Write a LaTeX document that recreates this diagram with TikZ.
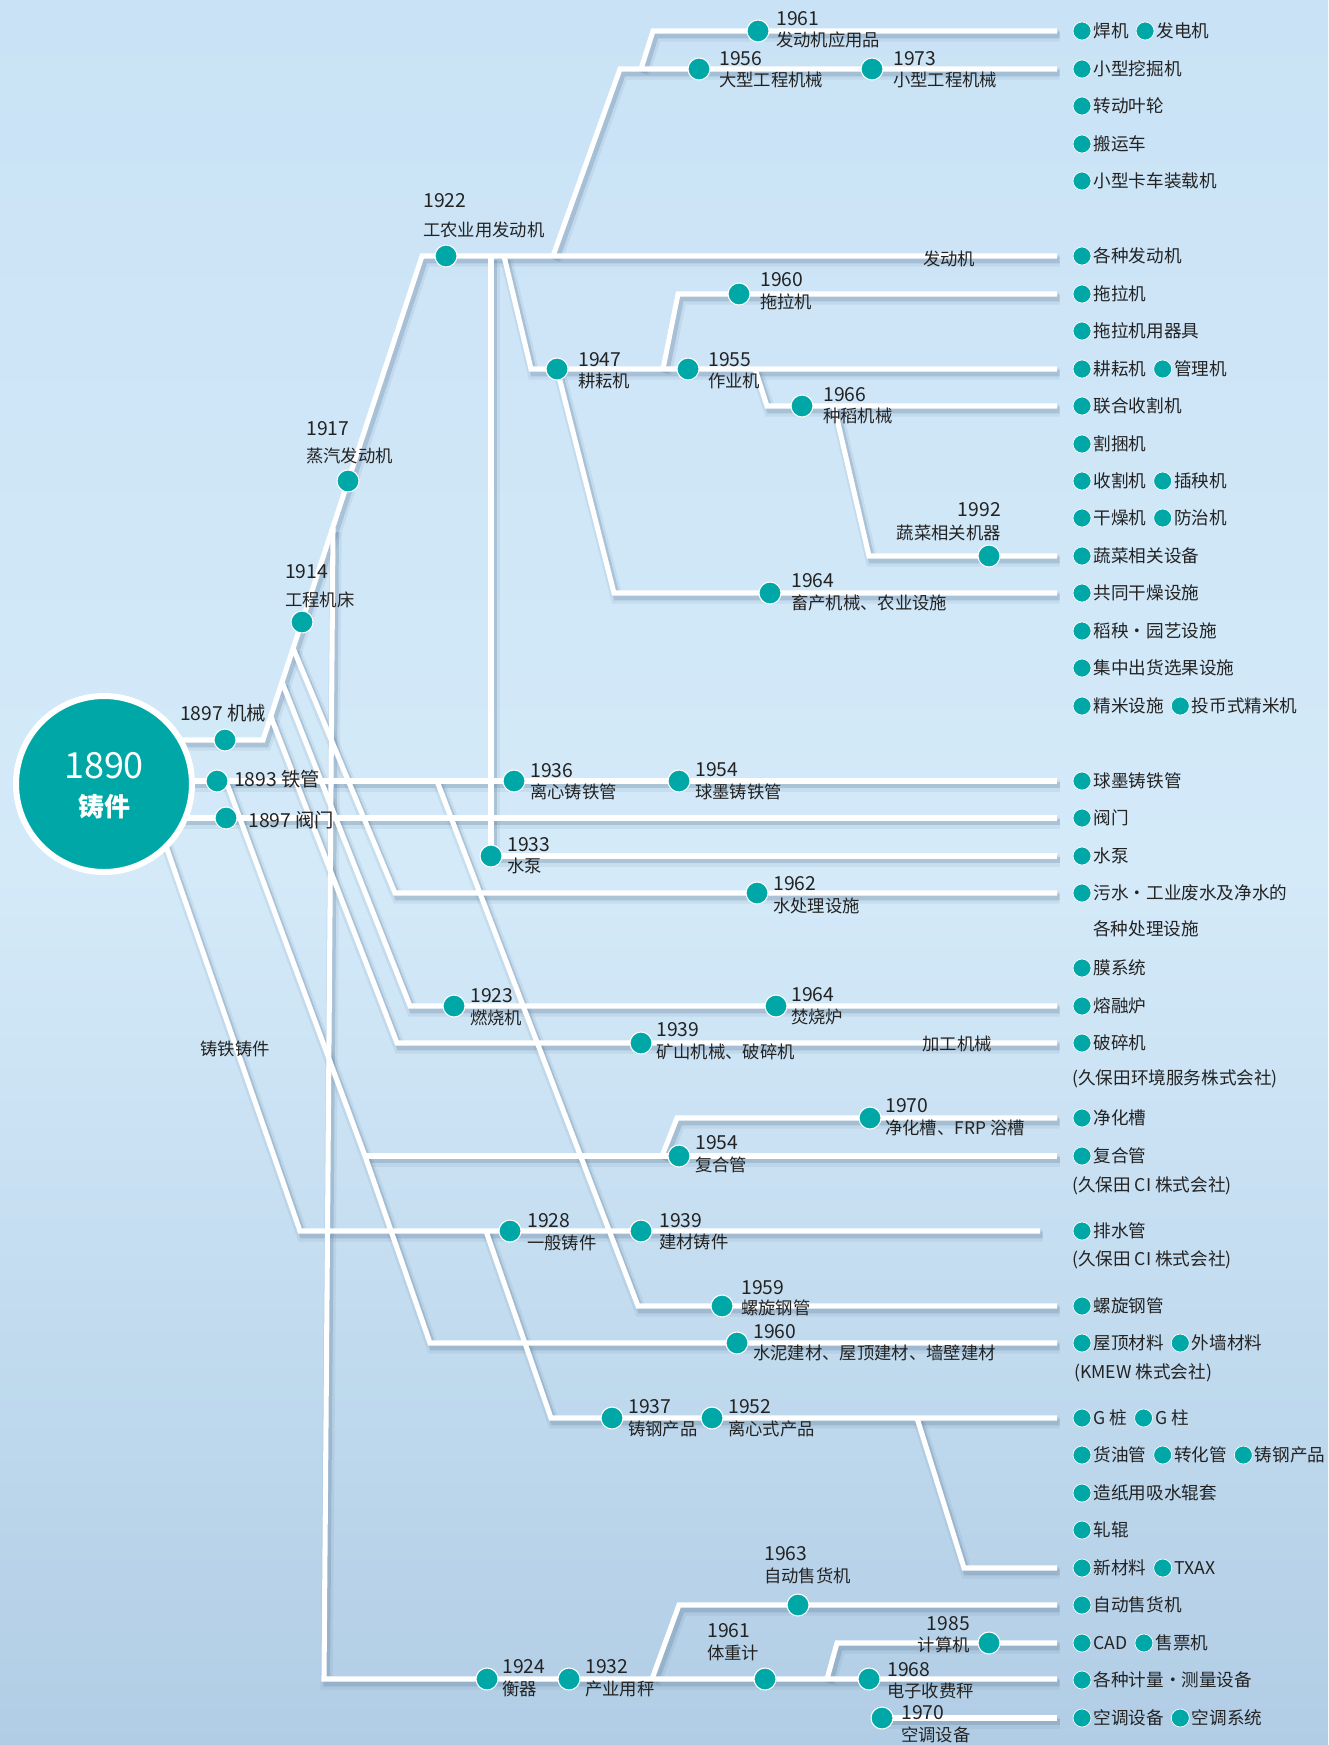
\documentclass[tikz,border=0pt]{standalone}
\usepackage{fontspec}
\setmainfont{Noto Sans CJK SC}
\usetikzlibrary{calc}
\definecolor{tealc}{RGB}{0,167,167}
\definecolor{txt}{RGB}{35,35,35}
\definecolor{shc}{RGB}{90,120,150}
\definecolor{bgt}{RGB}{201,226,245}
\definecolor{bgm}{RGB}{212,234,249}
\definecolor{bgb}{RGB}{177,205,229}
\pgfdeclarelayer{bglayer}
\pgfdeclarelayer{shlayer}
\pgfdeclarelayer{lnlayer}
\pgfsetlayers{bglayer,shlayer,lnlayer,main}
\tikzset{
 tdot/.style={circle,fill=tealc,draw=white,line width=0.8pt,minimum size=16.5pt,inner sep=0pt},
 rdot/.style={circle,fill=tealc,draw=white,line width=0.5pt,minimum size=13.5pt,inner sep=0pt},
 yr/.style={anchor=west,inner sep=0pt,text=txt,font=\fontsize{14.5}{16}\selectfont},
 ds/.style={anchor=west,inner sep=0pt,text=txt,font=\fontsize{13}{15}\selectfont},
 yre/.style={yr,anchor=east},
 dse/.style={ds,anchor=east},
 rl/.style={anchor=west,inner sep=0pt,text=txt,font=\fontsize{13.2}{16}\selectfont},
 wl/.style={draw=white,line width=3.8pt},
 shA/.style={draw=shc,line width=9pt,opacity=0.10,transform canvas={shift={(2pt,-3.5pt)}}},
 shB/.style={draw=shc,line width=5pt,opacity=0.25,transform canvas={shift={(2pt,-3pt)}}},
 dsh/.style={circle,fill=shc,opacity=0.25,minimum size=16.5pt,inner sep=0pt},
}
\newcommand\evlab[6]{\node[yr] (#1y) at (#2,#3) {#5};\node[ds] (#1t) at (#2,#4) {#6};}
\newcommand\rrow[3]{\node[rdot] (#1d) at (1082,#2) {};\node[rl] (#1) at ([xshift=1.5pt]#1d.east) {#3};}
\newcommand\rnext[3]{\node[rdot,anchor=west] (#1d) at ([xshift=5pt]#2.east) {};\node[rl] (#1) at ([xshift=1.5pt]#1d.east) {#3};}
\newcommand\allpaths[1]{%
\draw[#1] (s1) -- (c1) -- (c1922) -- (e6);
\draw[#1] (j1) -- (j2) -- (e1);
\draw[#1] (j3) -- (j4) -- (e0);
\draw[#1] (v2) -- (d1933.center) -- (e22);
\draw[#1] (j5) -- (j6) -- (e9);
\draw[#1] (d1947.center) -- (j7) -- (e15);
\draw[#1] (j8) -- (j9) -- (e7);
\draw[#1] (j10) -- (j11) -- (e10);
\draw[#1] (j12) -- (j13) -- (e14);
\draw[#1] (f1) -- (c1962) -- (e23);
\draw[#1] (f2) -- (c1923) -- (e26);
\draw[#1] (f3) -- (c1939) -- (e27);
\draw[#1] (fv) -- (vb) -- (e44);
\draw[#1] (b1) -- (b1t) -- (e42);
\draw[#1] (b2) -- (b2t) -- (e43);
\draw[#1] (d1970b.center) -- (e45);
\draw[#1] (s2) -- (e20);
\draw[#1] (g0) -- (g1) -- (g2) -- (e35);
\draw[#1] (g1) -- (e30);
\draw[#1] (g3) -- (g4) -- (e29);
\draw[#1] (h0) -- (h1) -- (e34);
\draw[#1] (s3) -- (e21);
\draw[#1] (s4) -- (i1) -- (e32);
\draw[#1] (i2) -- (i3) -- (e37);
\draw[#1] (i4) -- (i5) -- (e41);
}
\begin{document}
\begin{tikzpicture}[x=0.75pt,y=-0.75pt]
\begin{pgfonlayer}{bglayer}
\shade[top color=bgt,bottom color=bgb,middle color=bgm] (0,0) rectangle (1328,1745);
\end{pgfonlayer}
\useasboundingbox (0,0) rectangle (1328,1745);

% ---- coordinates
\coordinate (s1) at (150,740);
\coordinate (s2) at (150,781);
\coordinate (s3) at (150,818);
\coordinate (s4) at (150,800);
\coordinate (c1) at (263,740);
\coordinate (c1922) at (422,256);
\coordinate (f1) at (293,648);
\coordinate (f2) at (282,682);
\coordinate (f3) at (271,717);
\coordinate (fv) at (333,528);
\coordinate (vb) at (324,1679);
\coordinate (c1962) at (395,893);
\coordinate (c1923) at (410,1006);
\coordinate (c1939) at (397,1043);
\coordinate (b1) at (652,1679);
\coordinate (b1t) at (679,1605);
\coordinate (b2) at (827,1679);
\coordinate (b2t) at (837,1643);
\coordinate (g0) at (226,781);
\coordinate (g1) at (365,1156);
\coordinate (g2) at (430,1343);
\coordinate (g3) at (662,1156);
\coordinate (g4) at (677,1118);
\coordinate (h0) at (437,781);
\coordinate (h1) at (638,1306);
\coordinate (i1) at (300,1231);
\coordinate (i2) at (486,1231);
\coordinate (i3) at (551,1418);
\coordinate (i4) at (917,1418);
\coordinate (i5) at (964,1568);
\coordinate (j1) at (553,256);
\coordinate (j2) at (620,69);
\coordinate (j3) at (641,69);
\coordinate (j4) at (653,31);
\coordinate (v2) at (491,256);
\coordinate (j5) at (504,256);
\coordinate (j6) at (531,369);
\coordinate (j7) at (614,593);
\coordinate (j8) at (663,369);
\coordinate (j9) at (678,294);
\coordinate (j10) at (755,369);
\coordinate (j11) at (767,406);
\coordinate (j12) at (834,406);
\coordinate (j13) at (869,556);
\coordinate (e0) at (1057,31);
\coordinate (e1) at (1057,69);
\coordinate (e6) at (1057,256);
\coordinate (e7) at (1057,294);
\coordinate (e9) at (1057,369);
\coordinate (e10) at (1057,406);
\coordinate (e14) at (1057,556);
\coordinate (e15) at (1057,593);
\coordinate (e20) at (1057,781);
\coordinate (e21) at (1057,818);
\coordinate (e22) at (1057,856);
\coordinate (e23) at (1057,893);
\coordinate (e26) at (1057,1006);
\coordinate (e27) at (1057,1043);
\coordinate (e29) at (1057,1118);
\coordinate (e30) at (1057,1156);
\coordinate (e32) at (1040,1231);
\coordinate (e34) at (1057,1306);
\coordinate (e35) at (1057,1343);
\coordinate (e37) at (1057,1418);
\coordinate (e41) at (1057,1568);
\coordinate (e42) at (1057,1605);
\coordinate (e43) at (1057,1643);
\coordinate (e44) at (1057,1679);
\coordinate (e45) at (1057,1718);

% ---- main circle
\node[circle,fill=tealc,draw=white,line width=4.5pt,minimum size=132pt,inner sep=0pt] (main) at (104,784) {};
\node[text=white,font=\fontsize{27}{30}\selectfont] (t1890) at (104,766) {1890};
\node[text=white,font=\bfseries\fontsize{19.5}{22}\selectfont] (tzj) at (104,807) {铸件};

% ---- timeline dots
\node[tdot] (d1897a) at (225,740) {};
\node[tdot] (d1893) at (217,781) {};
\node[tdot] (d1897b) at (226,818) {};
\node[tdot] (d1914) at (302,622) {};
\node[tdot] (d1917) at (348,481) {};
\node[tdot] (d1922) at (446,256) {};
\node[tdot] (d1961a) at (758,31) {};
\node[tdot] (d1956) at (699,69) {};
\node[tdot] (d1973) at (872,69) {};
\node[tdot] (d1960a) at (739,294) {};
\node[tdot] (d1947) at (557,369) {};
\node[tdot] (d1955) at (688,369) {};
\node[tdot] (d1966) at (802,406) {};
\node[tdot] (d1992) at (989,556) {};
\node[tdot] (d1964a) at (770,593) {};
\node[tdot] (d1936) at (514,781) {};
\node[tdot] (d1954a) at (679,781) {};
\node[tdot] (d1933) at (491,856) {};
\node[tdot] (d1962) at (757,893) {};
\node[tdot] (d1923) at (454,1006) {};
\node[tdot] (d1964b) at (776,1006) {};
\node[tdot] (d1939a) at (641,1043) {};
\node[tdot] (d1970a) at (870,1118) {};
\node[tdot] (d1954b) at (679,1156) {};
\node[tdot] (d1928) at (510,1231) {};
\node[tdot] (d1939b) at (641,1231) {};
\node[tdot] (d1959) at (722,1306) {};
\node[tdot] (d1960b) at (737,1343) {};
\node[tdot] (d1937) at (612,1418) {};
\node[tdot] (d1952) at (712,1418) {};
\node[tdot] (d1963) at (798,1605) {};
\node[tdot] (d1985) at (989,1643) {};
\node[tdot] (d1924) at (487,1679) {};
\node[tdot] (d1932) at (569,1679) {};
\node[tdot] (d1961b) at (765,1679) {};
\node[tdot] (d1968) at (869,1679) {};
\node[tdot] (d1970b) at (882,1718) {};

% ---- lines
\begin{pgfonlayer}{shlayer}
\allpaths{shA}
\allpaths{shB}
\end{pgfonlayer}
\begin{pgfonlayer}{lnlayer}
\allpaths{wl}
\end{pgfonlayer}

% ---- timeline labels
\node[yr] (l1897a) at (180,713) {1897 机械};
\node[yr] (l1893) at (234,779) {1893 铁管};
\node[yr] (l1897b) at (248,820) {1897 阀门};
\evlab{l1914}{285}{572}{600}{1914}{工程机床}
\evlab{l1917}{306}{429}{456}{1917}{蒸汽发动机}
\evlab{l1922}{423}{201}{230}{1922}{工农业用发动机}
\evlab{l1961a}{776}{19}{40}{1961}{发动机应用品}
\evlab{l1956}{719}{59}{80}{1956}{大型工程机械}
\evlab{l1973}{893}{59}{80}{1973}{小型工程机械}
\evlab{l1960a}{760}{280}{302}{1960}{拖拉机}
\evlab{l1947}{578}{360}{381}{1947}{耕耘机}
\evlab{l1955}{708}{360}{381}{1955}{作业机}
\evlab{l1966}{823}{395}{416}{1966}{种稻机械}
\evlab{l1964a}{791}{581}{603}{1964}{畜产机械、农业设施}
\evlab{l1936}{530}{771}{792}{1936}{离心铸铁管}
\evlab{l1954a}{695}{770}{792}{1954}{球墨铸铁管}
\evlab{l1933}{507}{845}{866}{1933}{水泵}
\evlab{l1962}{773}{884}{906}{1962}{水处理设施}
\evlab{l1923}{470}{996}{1018}{1923}{燃烧机}
\evlab{l1964b}{791}{995}{1017}{1964}{焚烧炉}
\evlab{l1939a}{656}{1030}{1052}{1939}{矿山机械、破碎机}
\evlab{l1970a}{885}{1106}{1128}{1970}{净化槽、FRP 浴槽}
\evlab{l1954b}{695}{1143}{1165}{1954}{复合管}
\evlab{l1928}{527}{1221}{1243}{1928}{一般铸件}
\evlab{l1939b}{659}{1221}{1242}{1939}{建材铸件}
\evlab{l1959}{741}{1288}{1308}{1959}{螺旋钢管}
\evlab{l1960b}{753}{1332}{1353}{1960}{水泥建材、屋顶建材、墙壁建材}
\evlab{l1937}{628}{1407}{1429}{1937}{铸钢产品}
\evlab{l1952}{728}{1407}{1429}{1952}{离心式产品}
\evlab{l1963}{764}{1554}{1576}{1963}{自动售货机}
\evlab{l1961b}{707}{1631}{1653}{1961}{体重计}
\evlab{l1924}{502}{1667}{1689}{1924}{衡器}
\evlab{l1932}{585}{1667}{1689}{1932}{产业用秤}
\evlab{l1968}{887}{1670}{1691}{1968}{电子收费秤}
\evlab{l1970b}{901}{1713}{1735}{1970}{空调设备}
\node[yre] (l1992y) at (1001,510) {1992};
\node[dse] (l1992t) at (1001,533) {蔬菜相关机器};
\node[yre] (l1985y) at (970,1624) {1985};
\node[dse] (l1985t) at (970,1645) {计算机};
\node[ds,anchor=center] (lfdj) at (949,259) {发动机};
\node[ds,anchor=center] (ljgjx) at (957,1044) {加工机械};
\node[ds,anchor=center] (lztzj) at (235,1049) {铸铁铸件};

% ---- right column
\rrow{r0}{31}{焊机}\rnext{r0b}{r0}{发电机}
\rrow{r1}{69}{小型挖掘机}
\rrow{r2}{106}{转动叶轮}
\rrow{r3}{144}{搬运车}
\rrow{r4}{181}{小型卡车装载机}
\rrow{r6}{256}{各种发动机}
\rrow{r7}{294}{拖拉机}
\rrow{r8}{331}{拖拉机用器具}
\rrow{r9}{369}{耕耘机}\rnext{r9b}{r9}{管理机}
\rrow{r10}{406}{联合收割机}
\rrow{r11}{444}{割捆机}
\rrow{r12}{481}{收割机}\rnext{r12b}{r12}{插秧机}
\rrow{r13}{518}{干燥机}\rnext{r13b}{r13}{防治机}
\rrow{r14}{556}{蔬菜相关设备}
\rrow{r15}{593}{共同干燥设施}
\rrow{r16}{631}{稻秧・园艺设施}
\rrow{r17}{668}{集中出货选果设施}
\rrow{r18}{706}{精米设施}\rnext{r18b}{r18}{投币式精米机}
\rrow{r20}{781}{球墨铸铁管}
\rrow{r21}{818}{阀门}
\rrow{r22}{856}{水泵}
\rrow{r23}{893}{污水・工业废水及净水的}
\node[rl] (r24) at (1093,929) {各种处理设施};
\rrow{r25}{968}{膜系统}
\rrow{r26}{1006}{熔融炉}
\rrow{r27}{1043}{破碎机}
\node[rl] (r28) at (1072,1079) {(久保田环境服务株式会社)};
\rrow{r29}{1118}{净化槽}
\rrow{r30}{1156}{复合管}
\node[rl] (r31) at (1072,1186) {(久保田 CI 株式会社)};
\rrow{r32}{1231}{排水管}
\node[rl] (r33) at (1072,1260) {(久保田 CI 株式会社)};
\rrow{r34}{1306}{螺旋钢管}
\rrow{r35}{1343}{屋顶材料}\rnext{r35b}{r35}{外墙材料}
\node[rl] (r36) at (1074,1373) {(KMEW 株式会社)};
\rrow{r37}{1418}{G 桩}\rnext{r37b}{r37}{G 柱}
\rrow{r38}{1455}{货油管}\rnext{r38b}{r38}{转化管}\rnext{r38c}{r38b}{铸钢产品}
\rrow{r39}{1493}{造纸用吸水辊套}
\rrow{r40}{1530}{轧辊}
\rrow{r41}{1568}{新材料}\rnext{r41b}{r41}{TXAX}
\rrow{r42}{1605}{自动售货机}
\rrow{r43}{1643}{CAD}\rnext{r43b}{r43}{售票机}
\rrow{r44}{1680}{各种计量・测量设备}
\rrow{r45}{1718}{空调设备}\rnext{r45b}{r45}{空调系统}
\end{tikzpicture}
\end{document}
